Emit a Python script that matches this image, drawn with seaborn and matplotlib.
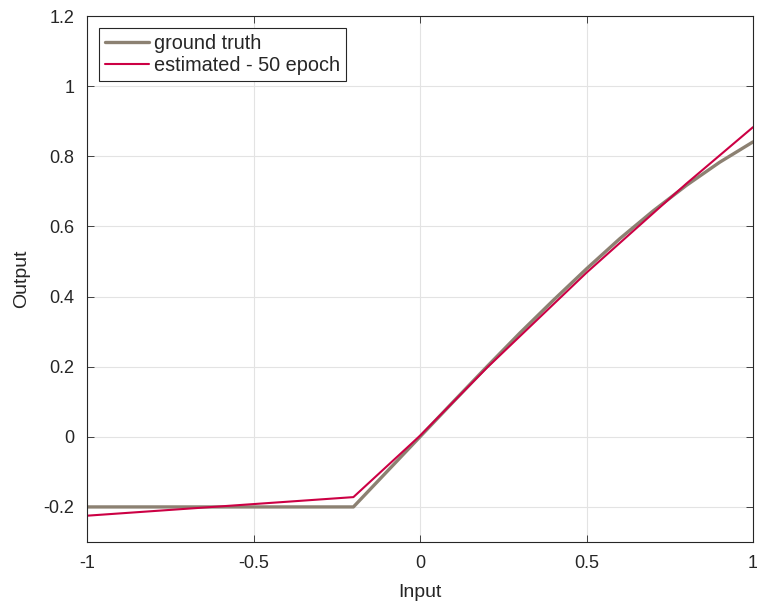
import matplotlib
matplotlib.use("Agg")
import matplotlib.pyplot as plt
import seaborn as sns
import pandas as pd

# Ground truth readings
gt_x = [-1.0, -0.2, 0.0, 0.1, 0.2, 0.3, 0.4, 0.5, 0.6, 0.7, 0.8, 0.9, 1.0]
gt_y = [-0.2, -0.2, 0.0, 0.1, 0.199, 0.296, 0.389, 0.479, 0.565, 0.644, 0.717, 0.783, 0.841]
# Estimated - 50 epoch readings
est_x = [-1.0, -0.2, 0.0, 0.2, 0.5, 0.8, 1.0]
est_y = [-0.225, -0.172, 0.003, 0.196, 0.468, 0.722, 0.883]

xticks = [-1, -0.5, 0, 0.5, 1]
yticks = [-0.2, 0, 0.2, 0.4, 0.6, 0.8, 1, 1.2]

sns.set_theme(style="whitegrid")
plt.rcParams['font.family'] = ['Liberation Sans', 'DejaVu Sans']

fig = plt.figure(figsize=(7.57, 6.07), dpi=100)
ax = fig.add_axes([87/757, 1 - 542/607, (753-87)/757, (542-16)/607])

df_gt = pd.DataFrame({"x": gt_x, "y": gt_y})
df_est = pd.DataFrame({"x": est_x, "y": est_y})
sns.lineplot(data=df_gt, x="x", y="y", ax=ax, color="#8C8172", linewidth=2.4,
             label="ground truth", sort=False)
sns.lineplot(data=df_est, x="x", y="y", ax=ax, color="#CC0044", linewidth=1.5,
             label="estimated - 50 epoch", sort=False)

ax.set_xlim(-1, 1)
ax.set_ylim(-0.3, 1.2)
ax.set_xticks(xticks)
ax.set_xticklabels([f"{t:g}" for t in xticks])
ax.set_yticks(yticks)
ax.set_yticklabels([f"{t:g}" for t in yticks])
ax.set_xlabel("Input", fontsize=14, color="#262626", labelpad=9)
ax.set_ylabel("Output", fontsize=14, color="#262626", labelpad=10)
ax.set_facecolor("white")
ax.grid(True, color="#E3E3E3", linewidth=0.8)
for s in ax.spines.values():
    s.set_visible(True)
    s.set_color("#262626")
    s.set_linewidth(0.8)
ax.tick_params(axis="both", direction="in", length=5, width=0.6, colors="#262626",
               labelsize=13, labelcolor="#262626", pad=9, top=True, right=True,
               bottom=True, left=True)

leg = ax.legend(loc="upper left", fontsize=14.3, frameon=True, fancybox=False,
                edgecolor="#262626", framealpha=1, borderpad=0.3, handlelength=2.2,
                handletextpad=0.25, labelspacing=0.15, borderaxespad=0.6)
leg.get_frame().set_linewidth(0.8)

fig.savefig("out.png", dpi=100)
